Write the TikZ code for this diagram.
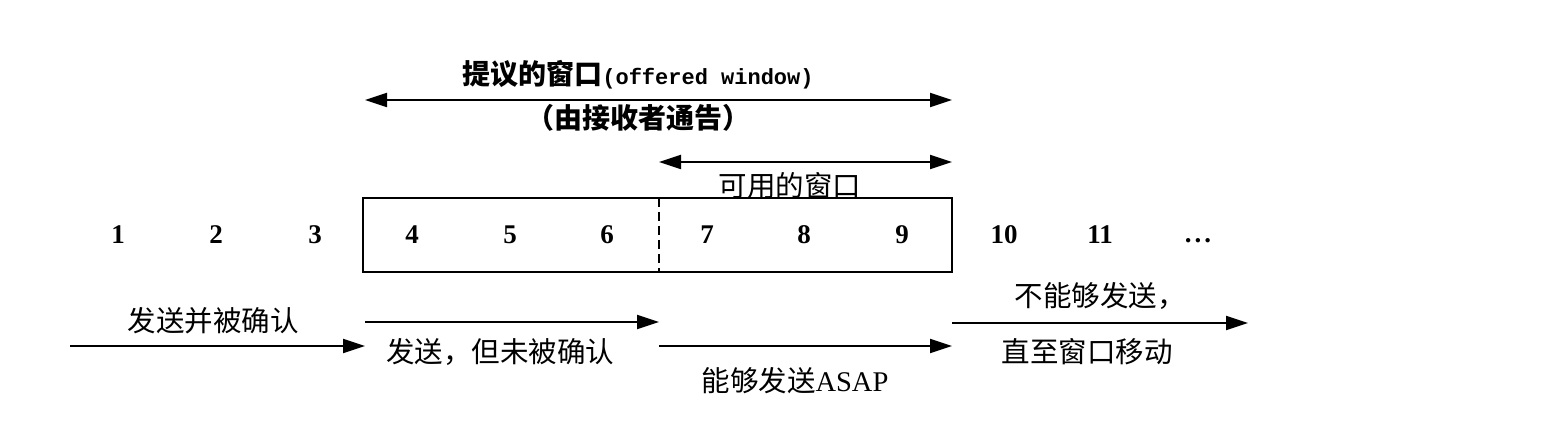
\documentclass[tikz,border=0pt]{standalone}
\usepackage{fontspec}
\setmainfont{Liberation Serif}
\newfontfamily\cjk{Noto Sans CJK SC}
\newfontfamily\monob{Liberation Mono}
\usetikzlibrary{arrows.meta}
\begin{document}
\begin{tikzpicture}[x=1pt,y=-1pt,
  conn/.style={line width=1.8pt,-{Triangle[length=22pt,width=14pt]}},
  dconn/.style={line width=1.8pt,{Triangle[length=22pt,width=14pt]}-{Triangle[length=22pt,width=14pt]}},
  num/.style={font=\fontsize{27}{29}\selectfont\bfseries},
  lab/.style={font=\cjk\fontsize{28.5}{32}\selectfont, inner sep=0pt},
  blab/.style={font=\cjk\bfseries\fontsize{28}{32}\selectfont, inner sep=0pt},
  boxline/.style={line width=1.8pt}]
\useasboundingbox (0,0) rectangle (1566,422);
% window box
\draw[boxline] (363,198) rectangle (952,272);
\coordinate (dtop) at (659,198);
\coordinate (dbot) at (659,272);
\draw[line width=1.6pt,dash pattern=on 9pt off 5pt] (dtop) -- (dbot);
% numbers
\foreach \n/\x in {1/118,2/216,3/315,4/412,5/510,6/607,7/707,8/804,9/902,10/1004,11/1100}
  \node[num] (n\n) at (\x,235) {\n};
\node[num] (ndots) at (1198,241) {.\kern3pt.\kern3pt.};
% offered window arrow
\coordinate (owl) at (365,100);
\coordinate (owr) at (952,100);
\draw[dconn] (owl) -- (owr);
\node[blab] (ow1) at (638,75) {提议的窗口{\monob\bfseries\fontsize{22}{26}\selectfont (offered window)}};
\node[blab] (ow2) at (638,118) {（由接收者通告）};
% usable window arrow
\coordinate (uwl) at (659,162);
\coordinate (uwr) at (952,162);
\draw[dconn] (uwl) -- (uwr);
\node[lab] (uw) at (790,186) {可用的窗口};
% bottom arrows
\coordinate (a1s) at (70,346);
\coordinate (a1e) at (365,346);
\draw[conn] (a1s) -- (a1e);
\node[lab] (l1) at (213,321) {发送并被确认};
\coordinate (a2s) at (365,322);
\coordinate (a2e) at (659,322);
\draw[conn] (a2s) -- (a2e);
\node[lab] (l2) at (500,352) {发送，但未被确认};
\coordinate (a3s) at (659,346);
\coordinate (a3e) at (952,346);
\draw[conn] (a3s) -- (a3e);
\node[lab] (l3) at (795,381) {能够发送{\fontspec{Liberation Serif}ASAP}};
\coordinate (a4s) at (952,323);
\coordinate (a4e) at (1248,323);
\draw[conn] (a4s) -- (a4e);
\node[lab] (l4a) at (1100,296) {不能够发送，};
\node[lab] (l4b) at (1087,352) {直至窗口移动};
\end{tikzpicture}
\end{document}
